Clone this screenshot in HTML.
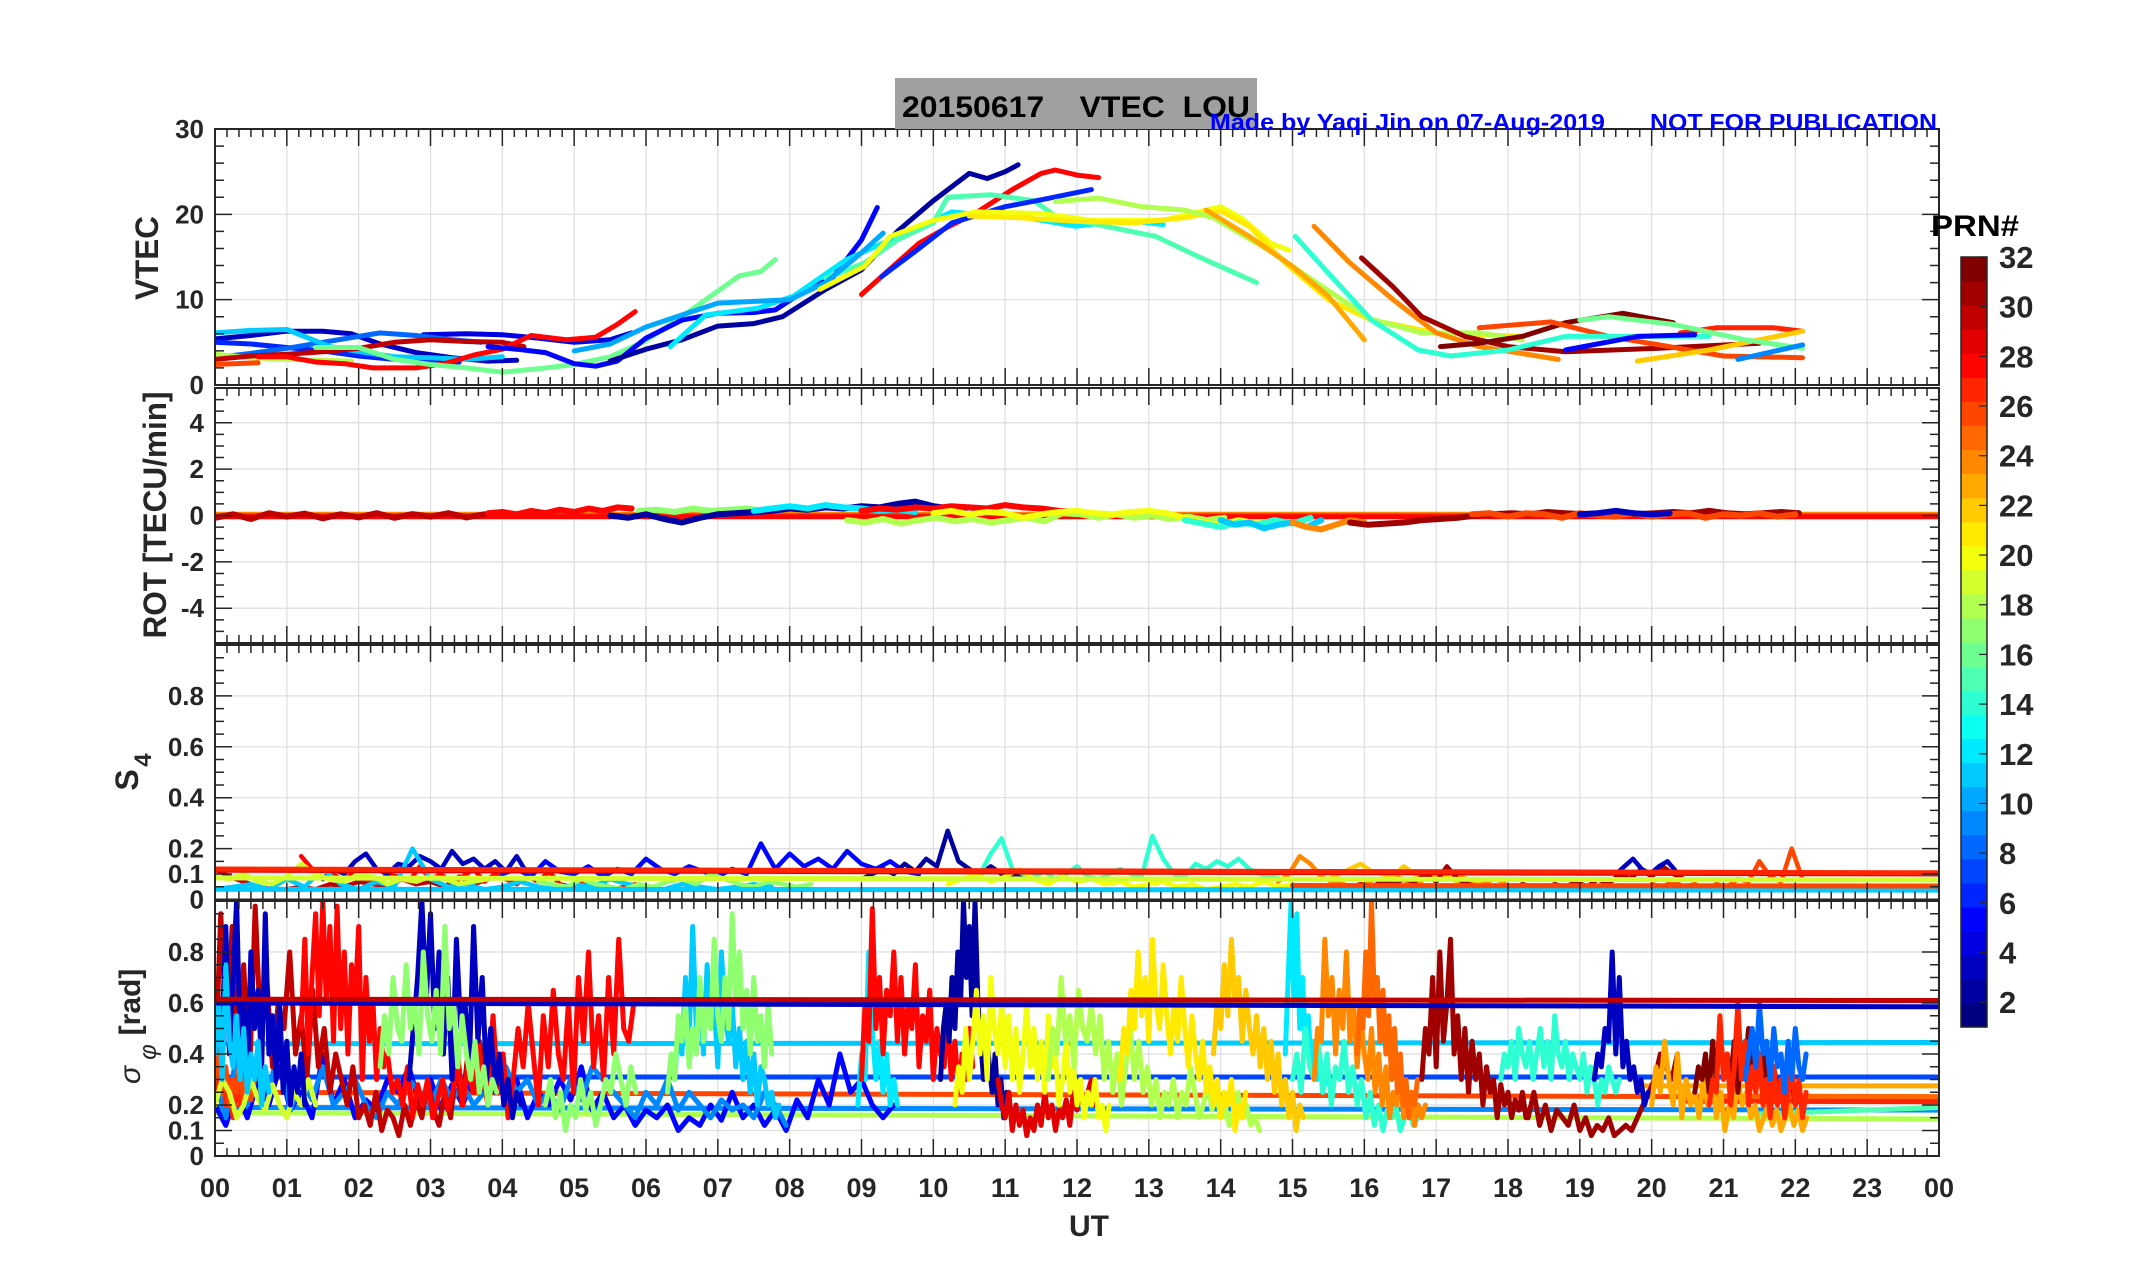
<!DOCTYPE html>
<html><head><meta charset="utf-8">
<style>
html,body{margin:0;padding:0;background:#fff;}
svg{display:block;font-family:"Liberation Sans",Arial,sans-serif;}
</style></head>
<body>
<svg id="chart" width="2153" height="1286" viewBox="0 0 2153 1286" xmlns="http://www.w3.org/2000/svg">
  <rect x="0" y="0" width="2153" height="1286" fill="#fff"/>
  <g id="grid"></g>
  <g id="series"></g>
  <g id="axes"></g>
  <g id="cbar"></g>
  <rect x="895" y="78" width="362" height="51" fill="#a0a0a0"/>
  <text x="902" y="117" font-size="30" font-weight="bold" fill="#000" textLength="348" lengthAdjust="spacingAndGlyphs" xml:space="preserve">20150617    VTEC  LOU</text>
  <text x="1210" y="130" font-size="23" font-weight="bold" fill="#0000ff" textLength="395" lengthAdjust="spacingAndGlyphs">Made by Yaqi Jin on 07-Aug-2019</text>
  <text x="1650" y="130" font-size="23" font-weight="bold" fill="#0000ff" textLength="287" lengthAdjust="spacingAndGlyphs">NOT FOR PUBLICATION</text>
  <text x="0" y="0" transform="translate(158,258) rotate(-90)" text-anchor="middle" font-size="32" font-weight="bold" fill="#262626" textLength="84" lengthAdjust="spacingAndGlyphs">VTEC</text>
  <text x="0" y="0" transform="translate(166,515) rotate(-90)" text-anchor="middle" font-size="32" font-weight="bold" fill="#262626" textLength="247" lengthAdjust="spacingAndGlyphs">ROT [TECU/min]</text>
  <g transform="translate(138,772) rotate(-90)">
    <text x="-8" y="0" text-anchor="middle" font-size="32" font-weight="bold" fill="#262626">S</text>
    <text x="12" y="13" text-anchor="middle" font-size="24" font-weight="bold" fill="#262626">4</text>
  </g>
  <g transform="translate(140,1030) rotate(-90)">
    <text x="-45" y="0" text-anchor="middle" font-size="30" font-style="italic" fill="#262626">σ</text>
    <text x="-22" y="16" text-anchor="middle" font-size="24" font-style="italic" fill="#262626">φ</text>
    <text x="28" y="0" text-anchor="middle" font-size="30" font-weight="bold" fill="#262626">[rad]</text>
  </g>
  <text x="1089" y="1236" text-anchor="middle" font-size="30" font-weight="bold" fill="#262626">UT</text>
  <text x="1975" y="236" text-anchor="middle" font-size="30" font-weight="bold" fill="#000" textLength="88" lengthAdjust="spacingAndGlyphs">PRN#</text>
</svg>
<script>
// ---------- DATA ----------
const vtecPRN = [3,4,6,8,11,18,26,30,28,16,5,28,2,12,15,10,6,20,21,18,23,24,31,32,26,27,22,14,16,5,9];
const vtecT = [
 [0,0.5,1,1.5,1.9,2.3,2.8,3.3,3.8,4.2],
 [2.9,3.5,4.0,4.5,5.0,5.5,5.8],
 [0,0.5,1,1.5,2,2.5,3,3.4],
 [0,0.5,1,1.5,2,2.3,2.8,3.3,3.7],
 [0,0.5,1,1.6,2.1,2.5,3,3.5,4.0],
 [0,0.5,1,1.5,1.9],
 [0,0.6],
 [0,0.5,1,1.5,2,2.5,3,3.5,4,4.3],
 [0.6,1.0,1.4,1.8,2.2,2.8,3.2,3.6,4.0,4.4,4.9,5.3,5.6,5.85],
 [1.4,2.0,2.5,3.0,3.5,4.0,4.5,5.0,5.5,6.0,6.5,7.0,7.3,7.6,7.8],
 [3.8,4.2,4.6,5.0,5.3,5.6,6.0,6.5,7.0,7.5,7.8,8.2,8.6,9.0,9.22],
 [9.0,9.4,9.8,10.2,10.6,11.1,11.5,11.7,12.0,12.3],
 [5.5,6.0,6.5,7.0,7.5,7.9,8.5,9.0,9.5,10.0,10.5,10.75,11.0,11.18],
 [6.34,6.83,7.56,8.05,8.79,9.4,10.26,10.8,11.24,11.98,12.7,13.2],
 [8.5,9.04,9.5,10.0,10.2,10.8,11.4,11.7,12.4,13.1,13.7,14.1,14.5],
 [5.0,5.5,6.0,6.5,7.0,7.5,8.0,8.5,9.0,9.3],
 [9.28,9.77,10.26,11.0,11.5,12.2],
 [8.42,9.04,9.4,10.0,10.6,11.5,12.2,13.2,14.0,14.3,14.7,14.95],
 [10.5,11.2,12.0,12.8,13.5,14.0,14.4,14.9,15.5,16.1,17.0,18.2],
 [11.7,12.3,12.9,13.5,13.9,14.67,15.4,16.1,16.8,17.6,18.2],
 [13.8,14.4,15.0,15.5,16.0],
 [15.3,15.8,16.4,17.0,17.6,18.7],
 [15.96,16.4,16.8,17.4,18.0,18.8,20.1,21.5],
 [17.06,17.6,18.2,18.8,19.6,20.3],
 [17.6,18.6,19.4,20.1,21.0,22.1],
 [20.4,20.9,21.7,22.1],
 [19.8,20.8,21.5,22.1],
 [15.04,15.5,16.1,16.75,17.2,18.0,18.8,20.1,20.8],
 [19.0,19.4,20.3,21.3,22.1],
 [18.8,19.8,20.6],
 [21.2,22.1]
];
const vtecV = [
 [5.4,5.8,6.3,6.3,6.0,4.8,3.8,3.2,2.8,2.9],
 [5.9,6.0,5.9,5.5,5.0,5.3,6.1],
 [5.0,4.8,4.4,4.0,3.4,3.0,2.8,2.7],
 [3.2,3.7,4.3,5.0,5.7,6.1,5.8,5.3,5.0],
 [6.1,6.4,6.5,4.5,3.8,3.3,3.2,3.0,3.3],
 [3.6,3.2,3.0,2.9,2.8],
 [2.4,2.6],
 [3.0,3.4,3.6,3.9,4.3,5.0,5.3,5.1,5.0,4.5],
 [3.3,3.3,2.7,2.5,2.0,2.0,2.5,3.5,4.2,5.8,5.3,5.6,7.1,8.6],
 [4.4,4.4,3.0,2.4,2.0,1.5,1.9,2.4,3.3,5.2,8.0,11.0,12.8,13.3,14.7],
 [4.5,4.2,3.8,2.5,2.2,2.8,5.5,7.6,8.4,8.5,8.8,11,12.6,17,20.8],
 [10.6,13.6,16.6,18.5,20.2,22.9,24.8,25.2,24.6,24.3],
 [2.8,4.2,5.3,6.9,7.2,8.0,11.2,13.5,18,21.6,24.8,24.2,25,25.8],
 [4.5,8.2,9.0,10.4,14.7,17,20.3,19.8,19.7,18.6,19.3,18.8],
 [12.5,14.3,17,19,22,22.3,21.6,19.8,18.6,17.4,15,13.5,12],
 [4.0,4.8,6.8,8.2,9.6,9.8,10,12,15.5,17.8],
 [12.7,15.8,19,20.9,21.7,22.9],
 [11.2,13.9,17.4,19.3,20.3,20.1,19.3,19.3,20.9,19.5,16.6,15.8],
 [19.8,19.6,19.2,19.0,19.6,20.4,18.6,14.3,10.0,7.6,6.1,5.7],
 [21.5,21.9,20.9,20.5,19.6,15.8,11.6,7.7,6.1,6.1,5.3],
 [20.5,17.4,13.9,10.4,5.3],
 [18.6,14.3,10.0,6.1,4.5,3.0],
 [14.9,11.5,8.0,5.7,4.5,3.9,4.3,4.9],
 [4.5,4.9,5.7,7.3,8.4,7.3],
 [6.7,7.4,5.7,4.7,3.4,3.2],
 [6.1,6.7,6.7,6.3],
 [2.8,4.1,5.3,6.3],
 [17.4,13.1,7.6,4.1,3.4,4.1,5.7,5.7,5.7],
 [7.6,8.0,7.1,5.3,4.3],
 [4.1,5.7,5.9],
 [3.0,4.7]
];

const rotPRN = [30,28,17,2,12,28,18,20,14,11,24,31,26,3];
const rotT0 = [0,3.8,5.9,5.5,7.5,9,8.8,10,13.5,14,15,15.8,17.5,19.0];
const rotStep = [0.25,0.2,0.25,0.25,0.25,0.25,0.25,0.25,0.25,0.2,0.2,0.25,0.25,0.25];
const rotV = [
 [-0.1,0.05,-0.15,0.1,-0.05,0.08,-0.12,0.05,-0.08,0.1,-0.1,0.06,-0.05,0.1,-0.08,0.05],
 [0.1,0.15,0.05,0.2,0.1,0.25,0.15,0.3,0.2,0.35,0.3],
 [0.2,0.25,0.15,0.3,0.2,0.25,0.3,0.2],
 [0,-0.1,0.05,-0.15,-0.3,-0.1,0.05,0.1,0.15,0.2,0.3,0.25,0.35,0.3,0.4,0.35,0.5,0.6,0.4,0.3,0.35,0.25],
 [0.2,0.3,0.4,0.3,0.45,0.35,0.3,0.2,0.25,0.15],
 [0.2,0.3,0.25,0.35,0.3,0.4,0.35,0.3,0.45,0.35,0.3,0.2,0.15],
 [-0.2,-0.3,-0.15,-0.35,-0.2,-0.1,-0.25,-0.15,-0.3,-0.2,-0.1,-0.25,0.1,0.05,-0.1,0.05,-0.1,0,-0.15,-0.05,-0.2,-0.1],
 [0.1,0.2,0.05,0.15,0.1,-0.1,0.05,0.15,0.2,0.1,0.05,0.15,0.2,0.1,-0.1,-0.3,-0.4,-0.2,-0.35,-0.25],
 [-0.2,-0.35,-0.5,-0.3,-0.4,-0.2,-0.35,-0.1],
 [-0.2,-0.4,-0.3,-0.55,-0.4,-0.3,-0.5,-0.2],
 [-0.3,-0.5,-0.6,-0.4,-0.2,-0.3],
 [-0.3,-0.4,-0.35,-0.3,-0.2,-0.15,-0.1,0,0.05,0.1,0.05,0.15,0.1,0.05,0.1,0.15,0.05,0.1,0.15,0.1,0.2,0.1,0.05,0.1,0.15,0.1],
 [0.05,0.1,-0.05,0.1,0.05,-0.1,0.1,0,-0.05,0.1,-0.05,0.05,0.1,-0.1,0.05,0,0.1,-0.05,0.05],
 [0.05,0.1,0.2,0.1,0.05,0.1]
];
const rotMeanPRN = [24,26,28];
const rotMeanV = [0.05,0.0,-0.05];

const s4PRN = [30,28,3,11,19,5,17,2,14,20,24,22,31,3,26];
const s4T0 = [0,1.2,1.5,0,0,4,4.5,9,10.5,10.2,14.8,15.5,15.5,19.5,20];
const s4Step = [0.2,0.15,0.15,0.25,0.2,0.2,0.2,0.15,0.15,0.2,0.15,0.15,0.15,0.12,0.15];
const s4V = [
 [0.12,0.09,0.07,0.05,0.04,0.04,0.05,0.04,0.06,0.05,0.07,0.06,0.05,0.08,0.06,0.07,0.05,0.09,0.06,0.08],
 [0.17,0.12,0.08,0.1,0.07,0.12,0.08,0.06,0.1,0.09,0.07,0.13,0.08,0.1,0.06,0.09,0.12,0.07,0.1,0.08,0.06,0.09,0.07,0.11,0.06,0.05,0.07,0.05,0.06,0.04,0.05,0.06],
 [0.08,0.12,0.1,0.15,0.18,0.12,0.1,0.14,0.13,0.17,0.15,0.12,0.19,0.14,0.16,0.12,0.15,0.11,0.17,0.1],
 [0.04,0.05,0.06,0.04,0.08,0.05,0.12,0.06,0.04,0.07,0.05,0.2,0.08,0.05,0.06,0.04,0.05,0.07,0.05,0.04,0.06,0.05,0.08,0.06,0.05,0.04,0.06,0.05,0.04,0.05,0.06,0.05],
 [0.09,0.08,0.1,0.07,0.06,0.09,0.14,0.1,0.08,0.07,0.1,0.09,0.06,0.08,0.07,0.09,0.08,0.06,0.07,0.08],
 [0.1,0.12,0.09,0.15,0.11,0.1,0.13,0.09,0.12,0.1,0.16,0.12,0.1,0.13,0.11,0.09,0.12,0.1,0.22,0.12,0.18,0.13,0.16,0.12,0.19,0.14,0.12,0.15,0.11,0.1],
 [0.07,0.06,0.05,0.08,0.06,0.05,0.04,0.06,0.05,0.07,0.08,0.06,0.1,0.08,0.06,0.05,0.07,0.06,0.05,0.06],
 [0.08,0.1,0.12,0.1,0.14,0.11,0.16,0.13,0.27,0.15,0.12,0.1,0.13,0.1,0.09,0.1],
 [0.08,0.1,0.18,0.24,0.12,0.1,0.09,0.11,0.08,0.1,0.13,0.09,0.08,0.1,0.12,0.1,0.09,0.25,0.16,0.1,0.09,0.14,0.12,0.15,0.13,0.16,0.12,0.1,0.09,0.08],
 [0.06,0.08,0.1,0.07,0.09,0.12,0.08,0.06,0.09,0.07,0.08,0.06,0.07,0.05,0.06,0.07,0.05,0.06,0.04,0.05,0.06,0.05,0.07,0.05,0.06],
 [0.07,0.1,0.17,0.14,0.09,0.07,0.06,0.05,0.06,0.08,0.07,0.09,0.07,0.06,0.1,0.08,0.11,0.09,0.07,0.06,0.08,0.07],
 [0.08,0.1,0.12,0.14,0.11,0.1,0.09,0.13,0.1,0.08,0.1,0.09,0.07,0.08,0.07],
 [0.05,0.04,0.05,0.06,0.05,0.07,0.06,0.08,0.07,0.1,0.07,0.13,0.08,0.06,0.05,0.04,0.05,0.04,0.06,0.05,0.04,0.06,0.05,0.07,0.05,0.08,0.06,0.1,0.08,0.12,0.09,0.13,0.1,0.08],
 [0.1,0.13,0.16,0.12,0.1,0.13,0.15,0.11],
 [0.06,0.05,0.07,0.05,0.06,0.04,0.06,0.05,0.08,0.07,0.15,0.09,0.07,0.2,0.08]
];
const s4MeanPRN = [11,19,26,29,27];
const s4MeanStart = [0,0,15,0,0];
const s4MeanV0 = [0.04,0.085,0.055,0.115,0.12];
const s4MeanV1 = [0.037,0.077,0.053,0.1,0.105];

const sigPRN = [5,9,30,27,26,19,3,11,28,28,3,17,17,11,17,12,28,2,29,20,18,21,22,12,14,24,25,31,31,14,3,23,32,27,8];
const sigT0 = [0,0,0,0,0,0,0.1,0,1.2,2.4,2.7,2.3,4.6,6.4,6.3,8.95,9.0,10.1,10.9,10.3,11.6,12.6,13.9,14.9,15.0,15.3,15.9,16.8,18.2,17.9,19.2,20.0,20.6,20.8,21.3];
const sigStep = [0.15,0.15,0.08,0.05,0.05,0.1,0.05,0.05,0.05,0.07,0.06,0.06,0.07,0.05,0.05,0.05,0.05,0.04,0.05,0.05,0.06,0.05,0.05,0.04,0.06,0.05,0.04,0.05,0.08,0.05,0.05,0.06,0.05,0.05,0.05];
const sigV = [
 [0.2,0.12,0.25,0.15,0.3,0.2,0.35,0.18,0.25,0.15,0.4,0.2,0.3,0.15,0.22,0.18,0.3,0.25,0.35,0.2,0.3,0.18,0.28,0.2,0.32,0.25,0.38,0.2,0.3,0.15,0.25,0.2,0.3,0.22,0.35,0.18,0.25,0.15,0.2,0.12,0.18,0.15,0.2,0.1,0.15,0.12,0.2,0.14,0.25,0.15,0.2,0.12,0.18,0.1,0.22,0.15,0.3,0.2,0.4,0.25,0.3,0.2,0.15,0.2],
 [0.3,0.15,0.4,0.2,0.35,0.25,0.45,0.18,0.3,0.22,0.35,0.2,0.25,0.3,0.2,0.15,0.25,0.2,0.3,0.25,0.2,0.3,0.22,0.28,0.2,0.25,0.3,0.35,0.25,0.3,0.2,0.25,0.18,0.3,0.22,0.35,0.3,0.25,0.2,0.15,0.25,0.2,0.3,0.18,0.25,0.2,0.15,0.22,0.18,0.2,0.15,0.25,0.2,0.12],
 [0.3,0.95,0.5,0.9,0.4,0.75,0.3,0.98,0.45,0.7,0.35,0.6,0.5,0.8,0.4,0.55,0.3,0.65,0.35,0.5,0.25,0.4,0.3,0.2,0.35,0.15,0.2,0.12,0.25,0.1,0.18,0.15,0.08,0.2,0.12,0.22,0.15,0.3,0.18,0.12,0.25,0.15,0.35,0.2,0.4,0.25,0.45,0.3,0.5],
 [0.3,0.25,0.35,0.2,0.3,0.15,0.28,0.2,0.35,0.25],
 [0.3,0.4,0.25,0.35,0.2,0.3,0.25,0.38,0.2,0.28,0.22,0.3],
 [0.2,0.3,0.25,0.15,0.2,0.3,0.22,0.18,0.28,0.2,0.15,0.25,0.2,0.3,0.2],
 [0.5,0.9,0.4,0.7,1.0,0.45,0.6,0.3,0.8,0.5,0.65,0.35,0.95,0.4,0.55,0.3,0.6,0.25,0.45,0.2,0.35,0.25,0.4,0.2],
 [0.4,0.6,0.3,0.75,0.45,0.35,0.55,0.3,0.5,0.25,0.4,0.3,0.45,0.2,0.35,0.25],
 [0.5,0.85,0.4,0.7,0.95,0.55,1.0,0.6,0.9,0.45,0.98,0.5,0.8,0.4,0.75,0.6,0.9,0.3,0.7,0.45,0.6,0.3,0.5,0.35],
 [0.4,0.25,0.3,0.2,0.35,0.15,0.28,0.2,0.3,0.15,0.22,0.3,0.18,0.25,0.4,0.2,0.35,0.25,0.45,0.3,0.2,0.55,0.25,0.4,0.15,0.3,0.5,0.35,0.6,0.4,0.2,0.55,0.35,0.65,0.4,0.3,0.6,0.25,0.7,0.45,0.8,0.35,0.55,0.3,0.7,0.4,0.85,0.5,0.45,0.6],
 [0.3,0.5,0.7,1.0,0.6,0.95,0.5,0.8,0.4,0.7,0.3,0.85,0.5,0.6,0.35,0.9,0.45,0.7,0.3,0.5,0.25,0.4,0.2,0.3,0.15,0.25,0.2],
 [0.35,0.55,0.4,0.7,0.5,0.45,0.75,0.5,0.6,0.4,0.8,0.55,0.45,0.65,0.4,0.9,0.5,0.6,0.35,0.55,0.4,0.3,0.45,0.25,0.35,0.2,0.3,0.25],
 [0.2,0.3,0.15,0.25,0.1,0.2,0.15,0.3,0.18,0.25,0.12,0.2,0.3,0.25,0.4,0.3,0.2,0.35,0.25],
 [0.3,0.5,0.4,0.7,0.45,0.9,0.5,0.65,0.4,0.75,0.5,0.6,0.35,0.8,0.55,0.45,0.6,0.35,0.5,0.3,0.45,0.25,0.4,0.2,0.35,0.3,0.2,0.25,0.15,0.2],
 [0.25,0.4,0.3,0.55,0.45,0.6,0.35,0.5,0.4,0.7,0.45,0.6,0.5,0.85,0.55,0.45,0.7,0.5,0.95,0.6,0.8,0.5,0.65,0.4,0.7,0.45,0.55,0.35,0.6,0.4],
 [0.2,0.4,0.3,0.8,0.5,0.3,0.45,0.25,0.4,0.2,0.3,0.2],
 [0.3,0.6,0.45,0.97,0.5,0.7,0.4,0.65,0.55,0.8,0.45,0.7,0.4,0.6,0.5,0.75,0.35,0.55,0.45,0.65,0.3,0.5,0.4,0.35,0.55,0.3,0.45,0.25,0.4,0.3,0.5,0.35],
 [0.3,0.5,0.6,0.45,0.7,0.5,0.8,0.6,1.0,0.7,0.9,0.55,1.0,0.6,0.45,0.3,0.5,0.35,0.25,0.4,0.2,0.3,0.15,0.25,0.2],
 [0.3,0.2,0.15,0.25,0.1,0.2,0.12,0.18,0.08,0.15,0.1,0.2,0.12,0.25,0.15,0.2,0.1,0.18,0.15,0.22,0.12,0.25,0.18,0.28,0.2,0.25,0.3,0.2],
 [0.2,0.35,0.25,0.5,0.3,0.45,0.65,0.4,0.55,0.3,0.7,0.5,0.4,0.6,0.35,0.55,0.3,0.5,0.25,0.4,0.6,0.35,0.5,0.3,0.45,0.25,0.55,0.35,0.4,0.2,0.3,0.45,0.25,0.35,0.2,0.3,0.15,0.25,0.2,0.3,0.15,0.2,0.1,0.2],
 [0.3,0.5,0.4,0.7,0.45,0.55,0.35,0.65,0.5,0.45,0.6,0.4,0.55,0.3,0.45,0.25,0.4,0.2,0.35,0.5,0.3,0.45,0.25,0.35,0.2,0.3,0.15,0.25,0.2,0.3,0.15,0.25,0.2,0.35,0.25,0.15,0.2,0.3,0.18,0.25,0.15,0.2,0.12,0.18,0.25,0.15,0.2,0.12,0.15,0.1],
 [0.3,0.5,0.4,0.65,0.5,0.8,0.55,0.7,0.45,0.85,0.6,0.5,0.75,0.55,0.4,0.6,0.45,0.7,0.5,0.35,0.55,0.4,0.3,0.45,0.25,0.35,0.2,0.3,0.15,0.25,0.2,0.3,0.1,0.2,0.15,0.25],
 [0.4,0.6,0.5,0.75,0.55,0.85,0.6,0.7,0.45,0.65,0.5,0.4,0.55,0.35,0.5,0.3,0.45,0.25,0.4,0.2,0.3,0.15,0.25,0.1,0.2,0.15],
 [0.4,0.7,1.0,0.6,0.95,0.5,0.7,0.4,0.55,0.35,0.45,0.3,0.4,0.25,0.3],
 [0.3,0.4,0.25,0.5,0.35,0.3,0.45,0.25,0.4,0.2,0.35,0.3,0.45,0.25,0.35,0.2,0.3,0.15,0.25,0.12,0.2,0.1,0.18,0.15,0.2,0.1,0.15,0.2,0.12,0.15],
 [0.3,0.5,0.45,0.85,0.55,0.7,0.4,0.65,0.5,0.8,0.45,0.6,0.35,0.55,0.4,0.3,0.5,0.25,0.4,0.2,0.35,0.15,0.25,0.2,0.3,0.15,0.2,0.25,0.12,0.2,0.15,0.2],
 [0.4,0.6,0.5,0.8,0.55,1.0,0.6,0.7,0.45,0.65,0.4,0.55,0.3,0.5,0.25,0.4,0.2,0.3,0.15,0.25,0.2,0.3],
 [0.3,0.5,0.4,0.7,0.35,0.8,0.45,0.6,0.85,0.4,0.55,0.3,0.5,0.25,0.45,0.3,0.4,0.2,0.35,0.25,0.3,0.15,0.28,0.2,0.25,0.15,0.22,0.18,0.25,0.15],
 [0.2,0.15,0.25,0.12,0.2,0.1,0.18,0.15,0.12,0.2,0.1,0.15,0.08,0.12,0.1,0.15,0.08,0.1,0.12,0.1,0.15,0.2,0.25,0.3,0.4,0.35,0.3,0.4],
 [0.3,0.4,0.35,0.45,0.3,0.5,0.4,0.35,0.45,0.3,0.4,0.5,0.35,0.45,0.3,0.55,0.4,0.35,0.45,0.3,0.4,0.35,0.3,0.4,0.25,0.35,0.3,0.2,0.3,0.25,0.35,0.3,0.25,0.3],
 [0.3,0.4,0.35,0.5,0.45,0.8,0.4,0.7,0.35,0.45,0.3,0.35,0.25,0.3,0.2,0.25],
 [0.2,0.35,0.25,0.45,0.3,0.2,0.4,0.15,0.3,0.2,0.25,0.15,0.3,0.2,0.35,0.15,0.25,0.1,0.2,0.15,0.3,0.2,0.25,0.15,0.2,0.1,0.15,0.2,0.12,0.18,0.1,0.15,0.2,0.12,0.18,0.1,0.15],
 [0.25,0.35,0.3,0.4,0.25,0.45,0.3,0.5,0.35,0.4,0.3,0.45,0.25,0.4,0.35,0.5,0.3,0.45,0.35,0.4,0.3,0.2,0.35,0.25,0.3,0.2,0.25,0.3,0.2,0.25],
 [0.2,0.3,0.25,0.55,0.3,0.4,0.2,0.35,0.6,0.3,0.45,0.2,0.35,0.25,0.4,0.2,0.3,0.15,0.35,0.2,0.3,0.15,0.25,0.35,0.2,0.3,0.15,0.25],
 [0.3,0.4,0.5,0.35,0.6,0.4,0.45,0.3,0.5,0.35,0.4,0.25,0.45,0.3,0.5,0.35,0.3,0.4]
];
const sigMeanPRN = [18,9,26,7,11,3,30,23,25,27,15];
const sigMeanStart = [0,0,0,0,0,0,0,19.8,20.5,20.5,21.5];
const sigMeanV0 = [0.17,0.19,0.25,0.31,0.44,0.6,0.615,0.275,0.235,0.215,0.165];
const sigMeanV1 = [0.145,0.18,0.23,0.31,0.445,0.585,0.61,0.275,0.233,0.213,0.19];

const xTickLabels = ["00","01","02","03","04","05","06","07","08","09","10","11","12","13","14","15","16","17","18","19","20","21","22","23","00"];
const vtecTicks = [0,10,20,30];
const rotTicks = [-4,-2,0,2,4];
const s4Ticks = [0,0.1,0.2,0.4,0.6,0.8];
const cbarTicks = [2,4,6,8,10,12,14,16,18,20,22,24,26,28,30,32];

// ---------- LAYOUT ----------
const NS = "http://www.w3.org/2000/svg";
const X0 = 215, X1 = 1939;
const panels = [
  {top:129, bot:385, min:0, max:30, ticks:vtecTicks, minor:2, name:"vtec"},
  {top:388, bot:643, min:-5.5, max:5.5, ticks:rotTicks, minor:0.5, name:"rot"},
  {top:645, bot:899.5, min:0, max:1, ticks:s4Ticks, minor:0.05, name:"s4"},
  {top:901, bot:1156, min:0, max:1, ticks:s4Ticks, minor:0.05, name:"sigma"}
];
function xS(h){ return X0 + h*(X1-X0)/24; }
function yS(p, v){ return p.bot - (v-p.min)/(p.max-p.min)*(p.bot-p.top); }
function jet(i){
  const x = (i-1)/31;
  const c = t => Math.round(255*Math.max(0, Math.min(1, t)));
  return `rgb(${c(1.5-Math.abs(4*x-3))},${c(1.5-Math.abs(4*x-2))},${c(1.5-Math.abs(4*x-1))})`;
}
function el(tag, attrs, parent){
  const e = document.createElementNS(NS, tag);
  for (const k in attrs) e.setAttribute(k, attrs[k]);
  parent.appendChild(e);
  return e;
}
const gGrid = document.getElementById('grid');
const gSer = document.getElementById('series');
const gAx = document.getElementById('axes');
const gCb = document.getElementById('cbar');

panels.forEach(p => {
  for (let h=1; h<24; h++){
    const l = el('line',{x1:xS(h),x2:xS(h),y1:p.top,y2:p.bot,stroke:'#dedede','stroke-width':1.2}, gGrid);
    
    
  }
  p.ticks.forEach(v => {
    const l = el('line',{x1:X0,x2:X1,y1:yS(p,v),y2:yS(p,v),stroke:'#dedede','stroke-width':1.2}, gGrid);
    
    
  });
});

const defs = el('defs',{}, document.getElementById('chart'));
panels.forEach((p,i) => {
  const cp = el('clipPath',{id:'clip'+i}, defs);
  el('rect',{x:X0,y:p.top,width:X1-X0,height:p.bot-p.top}, cp);
});

function polyline(pts, prn, width, panelIdx, name){
  const e = el('polyline',{points:pts.map(q=>q[0].toFixed(1)+','+q[1].toFixed(1)).join(' '),
    fill:'none', stroke:jet(prn), 'stroke-width':width, 'stroke-linejoin':'round','stroke-linecap':'round',
    'clip-path':'url(#clip'+panelIdx+')'}, gSer);
  
  
  return e;
}

vtecPRN.forEach((prn,i) => {
  const pts = vtecT[i].map((t,j) => [xS(t), yS(panels[0], vtecV[i][j])]);
  polyline(pts, prn, 5, 0, 'vtec-prn'+prn);
});
rotMeanPRN.forEach((prn,i) => {
  polyline([[xS(0), yS(panels[1], rotMeanV[i])],[xS(24), yS(panels[1], rotMeanV[i])]], prn, 5, 1, 'rot-baseline-prn'+prn);
});
rotPRN.forEach((prn,i) => {
  const pts = rotV[i].map((v,j) => [xS(rotT0[i]+j*rotStep[i]), yS(panels[1], v)]);
  polyline(pts, prn, 6, 1, 'rot-prn'+prn);
});
s4PRN.forEach((prn,i) => {
  const pts = s4V[i].map((v,j) => [xS(s4T0[i]+j*s4Step[i]), yS(panels[2], v)]);
  polyline(pts, prn, 4.5, 2, 's4-prn'+prn);
});
s4MeanPRN.forEach((prn,i) => {
  polyline([[xS(s4MeanStart[i]), yS(panels[2], s4MeanV0[i])],[xS(24), yS(panels[2], s4MeanV1[i])]], prn, 5, 2, 's4-mean-prn'+prn);
});
sigMeanPRN.forEach((prn,i) => {
  if (prn===3 || prn===30) return;
  polyline([[xS(sigMeanStart[i]), yS(panels[3], sigMeanV0[i])],[xS(24), yS(panels[3], sigMeanV1[i])]], prn, 5, 3, 'sigma-mean-prn'+prn);
});
sigPRN.forEach((prn,i) => {
  const pts = sigV[i].map((v,j) => [xS(sigT0[i]+j*sigStep[i]), yS(panels[3], v)]);
  polyline(pts, prn, 5, 3, 'sigma-prn'+prn);
});
sigMeanPRN.forEach((prn,i) => {
  if (!(prn===3 || prn===30)) return;
  polyline([[xS(sigMeanStart[i]), yS(panels[3], sigMeanV0[i])],[xS(24), yS(panels[3], sigMeanV1[i])]], prn, 5, 3, 'sigma-mean-prn'+prn);
});

const AX = '#262626';
panels.forEach((p,pi) => {
  const r = el('rect',{x:X0,y:p.top,width:X1-X0,height:p.bot-p.top,fill:'none',stroke:AX,'stroke-width':2}, gAx);
  
  
  let d = '';
  for (let k=0; k<=144; k++){
    const x = xS(k/6), len = (k%6===0) ? 17 : 8;
    d += `M${x},${p.top}v${len}M${x},${p.bot}v${-len}`;
  }
  const first = Math.ceil(p.min/p.minor - 1e-6);
  for (let k=first; k*p.minor<=p.max+1e-9; k++){
    const v = k*p.minor, y = yS(p,v);
    const major = p.ticks.some(t => Math.abs(t-v)<1e-6);
    const len = major ? 17 : 9;
    d += `M${X0},${y}h${len}M${X1},${y}h${-len}`;
  }
  const tk = el('path',{d:d,stroke:AX,'stroke-width':1.5,fill:'none'}, gAx);
  
  
  p.ticks.forEach(v => {
    const t = el('text',{x:204,y:yS(p,v)+9,'text-anchor':'end','font-size':26,'font-weight':'bold',fill:AX}, gAx);
    t.textContent = String(v);
    
    
  });
});
xTickLabels.forEach((s,h) => {
  const t = el('text',{x:xS(h),y:1197,'text-anchor':'middle','font-size':27,'font-weight':'bold',fill:AX}, gAx);
  t.textContent = s;
  
  
});

const CB = {x:1961, w:26, top:257, bot:1027};
function cbY(v){ return CB.bot - (v-1)/31*(CB.bot-CB.top); }
for (let i=1; i<=32; i++){
  const y0 = CB.bot - (i)/32*(CB.bot-CB.top), h = (CB.bot-CB.top)/32;
  const r = el('rect',{x:CB.x,y:y0,width:CB.w,height:h+0.6,fill:jet(i)}, gCb);
  
  
}
const cbBox = el('rect',{x:CB.x,y:CB.top,width:CB.w,height:CB.bot-CB.top,fill:'none',stroke:AX,'stroke-width':1.5}, gCb);


cbarTicks.forEach(v => {
  const y = cbY(v);
  const l = el('line',{x1:CB.x+CB.w-8,x2:CB.x+CB.w,y1:y,y2:y,stroke:AX,'stroke-width':1.2}, gCb);
  
  
  const t = el('text',{x:1999,y:y+11,'font-size':31,'font-weight':'bold',fill:AX}, gCb);
  t.textContent = String(v);
  
  
});
</script>
</body></html>
